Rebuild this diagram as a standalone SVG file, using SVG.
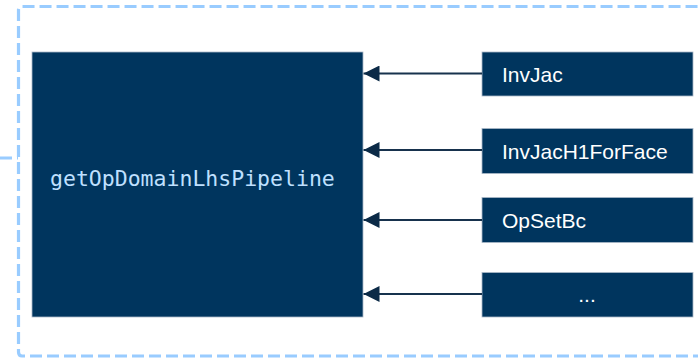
<svg xmlns="http://www.w3.org/2000/svg" width="698" height="358" viewBox="0 0 698 358">
<defs>
<style>
.frame{fill:none;stroke:#99ccff;stroke-width:3.2;stroke-dasharray:12 5}
.box{fill:#00355e;stroke:#aab8c8;stroke-width:0.8}
.lbl{font-family:"Liberation Sans",Arial,sans-serif;font-size:21px;fill:#ffffff}
.mono{font-family:"DejaVu Sans Mono",monospace;font-size:21.5px;fill:#bfe0ff}
.conn{stroke:#17324d;stroke-width:2;fill:none;marker-end:url(#arr)}
</style>
<marker id="arr" markerUnits="userSpaceOnUse" markerWidth="16" markerHeight="16" refX="16" refY="8" orient="auto">
<path d="M0,0 L16,8 L0,16 Z" fill="#0b2a47"/>
</marker>
</defs>
<g id="frame">
<path class="frame" d="M705,356 L22,356 Q18.5,356 18.5,352 L18.5,10 Q18.5,6.5 22,6.5 L705,6.5"/>
<line class="frame" x1="0" y1="158" x2="18" y2="158"/>
</g>
<g id="main">
<rect class="box" x="32" y="52" width="331" height="265"/>
<text class="mono" x="50" y="186">getOpDomainLhsPipeline</text>
</g>
<g id="invjac">
<rect class="box" x="482" y="52" width="211" height="44"/>
<text class="lbl" x="502" y="81.5">InvJac</text>
</g>
<g id="invjach1">
<rect class="box" x="482" y="128.5" width="211" height="45"/>
<text class="lbl" x="502" y="158.5">InvJacH1ForFace</text>
</g>
<g id="opsetbc">
<rect class="box" x="482" y="197.5" width="211" height="45"/>
<text class="lbl" x="502" y="227.5">OpSetBc</text>
</g>
<g id="more">
<rect class="box" x="482" y="272.5" width="211" height="44.5"/>
<text class="lbl" x="587" y="302" text-anchor="middle">...</text>
</g>
<g id="connectors">
<line class="conn" x1="482" y1="73.5" x2="363.5" y2="73.5"/>
<line class="conn" x1="482" y1="150" x2="363.5" y2="150"/>
<line class="conn" x1="482" y1="220" x2="363.5" y2="220"/>
<line class="conn" x1="482" y1="294" x2="363.5" y2="294"/>
</g>
</svg>
